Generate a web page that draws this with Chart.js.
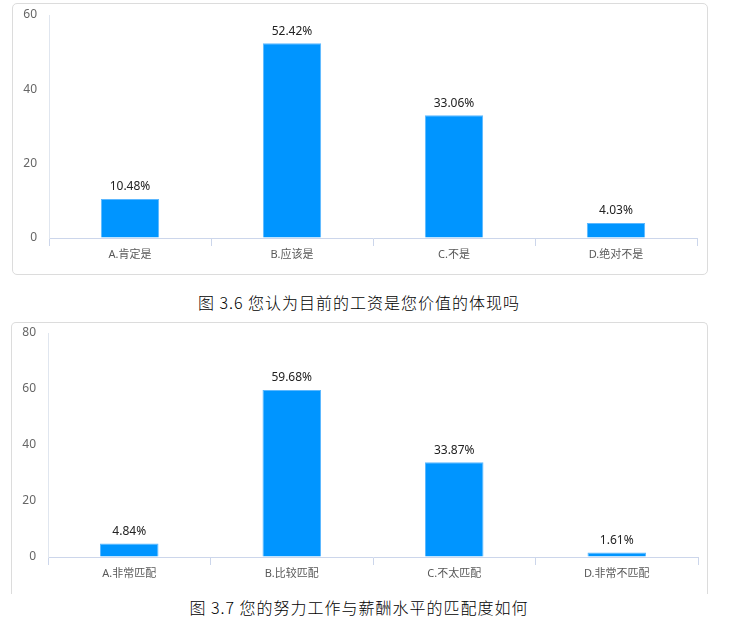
<!DOCTYPE html>
<html>
<head>
<meta charset="utf-8">
<script src="https://cdn.jsdelivr.net/npm/chart.js@4.4.1/dist/chart.umd.min.js"></script>
<style>
  body { margin: 0; background: #fff; width: 753px; height: 624px; position: relative; overflow: hidden; }
  .box { position: absolute; border: 1px solid #dcdcdc; border-radius: 5px; box-sizing: border-box; pointer-events: none; }
  .wrap { position: absolute; }
  .caption { position: absolute; left: 0; width: 718px; text-align: center; font: 300 16px "Noto Sans CJK SC", sans-serif; color: #000; line-height: 20px; letter-spacing: 1px; }
</style>
</head>
<body>
<div class="box" style="left:12px;top:3px;width:696px;height:272px;"></div>
<div class="wrap" style="left:12px;top:3px;width:696px;height:272px;"><canvas id="chart1"></canvas></div>
<div class="caption" style="top:292px;">图 3.6 您认为目前的工资是您价值的体现吗</div>

<div class="box" style="left:11px;top:322px;width:697px;height:272px;border-bottom:none;border-bottom-left-radius:0;border-bottom-right-radius:0;"></div>
<div class="wrap" style="left:11px;top:322px;width:697px;height:270px;"><canvas id="chart2"></canvas></div>
<div class="caption" style="top:597px;">图 3.7 您的努力工作与薪酬水平的匹配度如何</div>

<script>
// 图 3.6
const labels1 = ['A.肯定是', 'B.应该是', 'C.不是', 'D.绝对不是'];
const values1 = [10.48, 52.42, 33.06, 4.03];
const yMax1 = 60;

// 图 3.7
const labels2 = ['A.非常匹配', 'B.比较匹配', 'C.不太匹配', 'D.非常不匹配'];
const values2 = [4.84, 59.68, 33.87, 1.61];
const yMax2 = 80;

const fontFamily = '"Noto Sans", "Noto Sans CJK SC", sans-serif';

// draw the percent above each bar
const valueLabels = {
  id: 'valueLabels',
  afterDatasetsDraw(chart) {
    const ctx = chart.ctx;
    const meta = chart.getDatasetMeta(0);
    const data = chart.data.datasets[0].data;
    ctx.save();
    ctx.font = '12px ' + fontFamily;
    ctx.fillStyle = '#222';
    ctx.textAlign = 'center';
    ctx.textBaseline = 'bottom';
    meta.data.forEach((bar, i) => {
      ctx.fillText(data[i].toFixed(2) + '%', bar.x, bar.y - 6);
    });
    ctx.restore();
  }
};

function makeChart(id, labels, values, yMax, padRight, xHeight, padTop) {
  return new Chart(document.getElementById(id), {
    type: 'bar',
    data: {
      labels: labels,
      datasets: [{
        data: values,
        backgroundColor: '#0095ff',
        borderColor: '#5cb8ff',
        borderWidth: 1,
        categoryPercentage: 1,
        barPercentage: 0.36
      }]
    },
    options: {
      responsive: true,
      maintainAspectRatio: false,
      animation: false,
      layout: { padding: { top: padTop, right: padRight, left: 0, bottom: 0 } },
      plugins: { legend: { display: false }, tooltip: { enabled: false } },
      scales: {
        x: {
          grid: { display: true, drawOnChartArea: false, drawTicks: true, tickLength: 8, color: '#ccd6eb', offset: true },
          border: { display: true, color: '#ccd6eb' },
          ticks: { color: '#595959', font: { size: 11, family: fontFamily }, padding: 2, maxRotation: 0 },
          afterFit(scale) { scale.height = xHeight; }
        },
        y: {
          min: 0,
          max: yMax,
          grid: { display: true, drawOnChartArea: false, drawTicks: false },
          border: { display: true, color: '#e0e6ef' },
          ticks: { stepSize: 20, color: '#666', font: { size: 12, family: fontFamily }, padding: 12 },
          afterFit(scale) {
            scale.width = 37;
            // let layout padding alone decide the top of the plot
            scale.paddingTop = 0;
            scale.paddingBottom = 0;
          }
        }
      }
    },
    plugins: [valueLabels]
  });
}

makeChart('chart1', labels1, values1, yMax1, 11, 37, 12);
makeChart('chart2', labels2, values2, yMax2, 10, 35, 11);
</script>
</body>
</html>
